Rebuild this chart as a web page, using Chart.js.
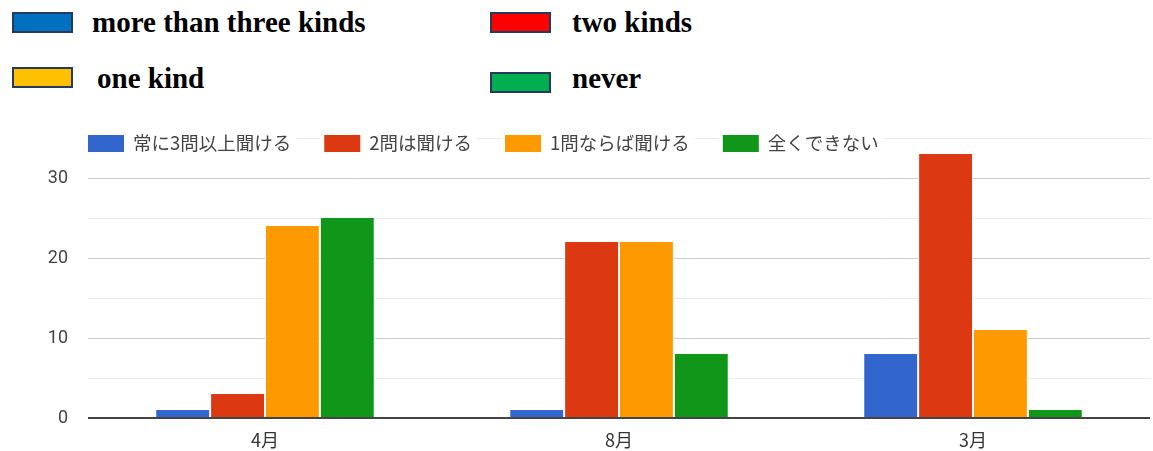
<!DOCTYPE html>
<html>
<head>
<meta charset="utf-8">
<script src="https://cdn.jsdelivr.net/npm/chart.js@4.4.1/dist/chart.umd.min.js"></script>
<style>
  body { margin: 0; background: #fff; width: 1153px; height: 451px; overflow: hidden; position: relative; }
  .key { position: absolute; font-family: "Liberation Serif", "Times New Roman", serif; font-weight: bold; font-size: 29px; color: #000; line-height: 1; }
  .sw { position: absolute; width: 57px; height: 17px; border: 2px solid #263A5E; }
  #wrap { position: absolute; left: 0; top: 100px; width: 1153px; height: 351px; }
</style>
</head>
<body>

<div class="sw" style="left:12px;top:12px;background:#0070C0"></div>
<div class="key" style="left:92px;top:8px">more than three kinds</div>
<div class="sw" style="left:490px;top:12px;background:#FF0000"></div>
<div class="key" style="left:572px;top:8px">two kinds</div>
<div class="sw" style="left:12px;top:67px;background:#FFC000"></div>
<div class="key" style="left:97px;top:64px">one kind</div>
<div class="sw" style="left:490px;top:72px;background:#00B050"></div>
<div class="key" style="left:572px;top:64px">never</div>

<div id="wrap"><canvas id="barChart"></canvas></div>

<script>
// survey data
const months = ["4月", "8月", "3月"];
const seriesNames = ["常に3問以上聞ける", "2問は聞ける", "1問ならば聞ける", "全くできない"];
const threeOrMore = [1, 1, 8];
const twoQ = [3, 22, 33];
const oneQ = [24, 22, 11];
const never = [25, 8, 1];
const colors = ["#3366CC", "#DC3912", "#FF9900", "#109618"];
const yTicks = [0, 10, 20, 30];

const allSeries = [threeOrMore, twoQ, oneQ, never];

// legend drawn on top of the chart area, like google charts does it
const topLegend = {
    id: "topLegend",
    afterDraw(chart) {
        const ctx = chart.ctx;
        const y = chart.chartArea.top;
        let x = chart.chartArea.left;
        ctx.save();
        ctx.font = "18.5px 'Noto Sans CJK JP', sans-serif";
        ctx.textBaseline = "middle";
        chart.data.datasets.forEach(ds => {
            const w = ctx.measureText(ds.label).width;
            ctx.fillStyle = "#fff";
            ctx.fillRect(x - 4, y - 12, 36 + 10 + w + 8, 24);
            ctx.fillStyle = ds.backgroundColor;
            ctx.fillRect(x, y - 3, 36, 17);
            ctx.fillStyle = "#444";
            ctx.fillText(ds.label, x + 45, y + 5);
            x += 36 + 10 + w + 32;
        });
        ctx.restore();
    }
};

new Chart(document.getElementById("barChart"), {
    type: "bar",
    data: {
        labels: months,
        datasets: seriesNames.map((name, i) => ({
            label: name,
            data: allSeries[i],
            backgroundColor: colors[i],
            borderColor: "#fff",
            borderWidth: { left: 1, right: 1, top: 0, bottom: 0 },
            borderSkipped: false,
            barPercentage: 1,
            categoryPercentage: 0.62
        }))
    },
    options: {
        responsive: true,
        maintainAspectRatio: false,
        animation: false,
        layout: { padding: { top: 38, right: 3, left: 0, bottom: 0 } },
        plugins: {
            legend: { display: false },
            tooltip: { enabled: false }
        },
        scales: {
            x: {
                grid: { display: false },
                border: { display: false },
                ticks: { color: "#333", font: { size: 18, family: "'Noto Sans CJK JP', sans-serif" }, padding: 3 },
                afterFit: s => { s.height = 33; }
            },
            y: {
                min: 0,
                max: 35,
                border: { display: false },
                grid: {
                    drawTicks: false,
                    color: c => c.tick.value === 0 ? "#444" : (yTicks.includes(c.tick.value) ? "#cccccc" : "#ebebeb"),
                    lineWidth: c => c.tick.value === 0 ? 2 : 1
                },
                ticks: {
                    stepSize: 5,
                    color: "#444",
                    padding: 20,
                    font: { size: 18, family: "Roboto, Arial, sans-serif" },
                    callback: v => yTicks.includes(v) ? v : ""
                },
                afterFit: s => { s.width = 88; }
            }
        }
    },
    plugins: [topLegend]
});
</script>
</body>
</html>
